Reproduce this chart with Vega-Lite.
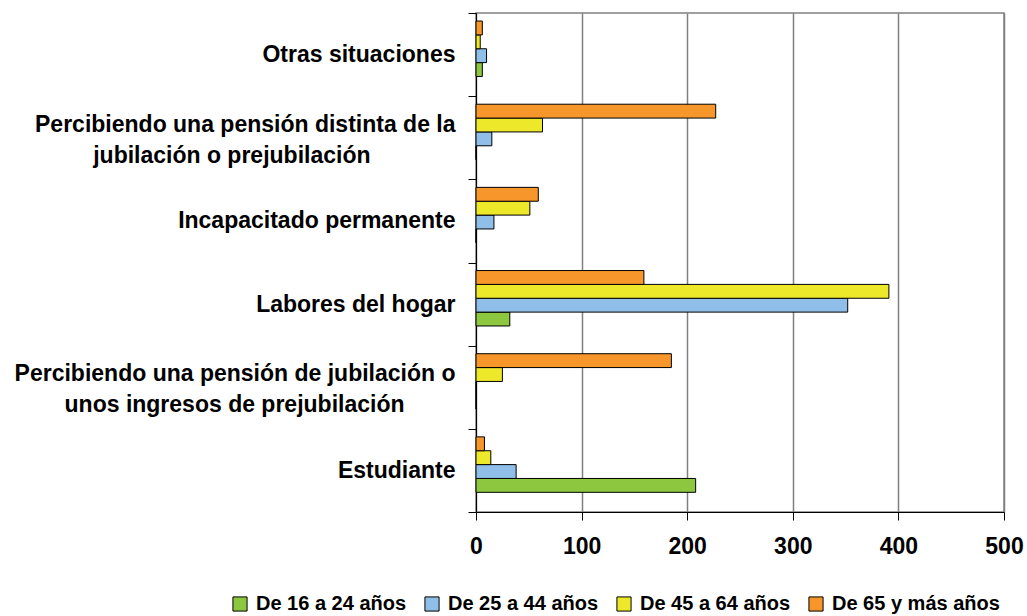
{
  "$schema": "https://vega.github.io/schema/vega-lite/v6.json",
  "width": 528,
  "height": 499,
  "autosize": "none",
  "padding": {"left": 476, "top": 13, "right": 23, "bottom": 104},
  "background": "white",
  "config": {
    "font": "Liberation Sans",
    "view": {"stroke": "#808080", "strokeWidth": 1.5},
    "axis": {"labelFont": "Liberation Sans", "labelFontWeight": "bold", "labelColor": "black"}
  },
  "data": {
    "values": [
      {"situacion": "Otras situaciones", "edad": "De 16 a 24 años", "valor": 6},
      {"situacion": "Otras situaciones", "edad": "De 25 a 44 años", "valor": 10},
      {"situacion": "Otras situaciones", "edad": "De 45 a 64 años", "valor": 4},
      {"situacion": "Otras situaciones", "edad": "De 65 y más años", "valor": 6},
      {"situacion": "Percibiendo una pensión distinta de la jubilación o prejubilación", "edad": "De 16 a 24 años", "valor": 0},
      {"situacion": "Percibiendo una pensión distinta de la jubilación o prejubilación", "edad": "De 25 a 44 años", "valor": 15},
      {"situacion": "Percibiendo una pensión distinta de la jubilación o prejubilación", "edad": "De 45 a 64 años", "valor": 63},
      {"situacion": "Percibiendo una pensión distinta de la jubilación o prejubilación", "edad": "De 65 y más años", "valor": 227},
      {"situacion": "Incapacitado permanente", "edad": "De 16 a 24 años", "valor": 0},
      {"situacion": "Incapacitado permanente", "edad": "De 25 a 44 años", "valor": 17},
      {"situacion": "Incapacitado permanente", "edad": "De 45 a 64 años", "valor": 51},
      {"situacion": "Incapacitado permanente", "edad": "De 65 y más años", "valor": 59},
      {"situacion": "Labores del hogar", "edad": "De 16 a 24 años", "valor": 32},
      {"situacion": "Labores del hogar", "edad": "De 25 a 44 años", "valor": 352},
      {"situacion": "Labores del hogar", "edad": "De 45 a 64 años", "valor": 391},
      {"situacion": "Labores del hogar", "edad": "De 65 y más años", "valor": 159},
      {"situacion": "Percibiendo una pensión de jubilación o unos ingresos de prejubilación", "edad": "De 16 a 24 años", "valor": 0},
      {"situacion": "Percibiendo una pensión de jubilación o unos ingresos de prejubilación", "edad": "De 25 a 44 años", "valor": 0},
      {"situacion": "Percibiendo una pensión de jubilación o unos ingresos de prejubilación", "edad": "De 45 a 64 años", "valor": 25},
      {"situacion": "Percibiendo una pensión de jubilación o unos ingresos de prejubilación", "edad": "De 65 y más años", "valor": 185},
      {"situacion": "Estudiante", "edad": "De 16 a 24 años", "valor": 208},
      {"situacion": "Estudiante", "edad": "De 25 a 44 años", "valor": 38},
      {"situacion": "Estudiante", "edad": "De 45 a 64 años", "valor": 14},
      {"situacion": "Estudiante", "edad": "De 65 y más años", "valor": 8}
    ]
  },
  "mark": {"type": "bar", "stroke": "black", "strokeWidth": 1},
  "encoding": {
    "y": {
      "field": "situacion",
      "type": "nominal",
      "scale": {
        "domain": [
          "Otras situaciones",
          "Percibiendo una pensión distinta de la jubilación o prejubilación",
          "Incapacitado permanente",
          "Labores del hogar",
          "Percibiendo una pensión de jubilación o unos ingresos de prejubilación",
          "Estudiante"
        ],
        "paddingInner": 0,
        "paddingOuter": 0
      },
      "axis": {
        "title": null,
        "domainColor": "black",
        "domainWidth": 1,
        "tickColor": "black",
        "tickSize": 8,
        "tickBand": "extent",
        "labelPadding": 13,
        "labelFontSize": 23,
        "labelLineHeight": 31,
        "labelAlign": "right",
        "labelBaseline": "middle",
        "labelLimit": 0,
        "grid": false,
        "labelOffset": {"condition": {"test": "datum.value == 'Percibiendo una pensión distinta de la jubilación o prejubilación' || datum.value == 'Percibiendo una pensión de jubilación o unos ingresos de prejubilación'", "value": -13.5}, "value": 0},
        "labelExpr": "datum.value == 'Percibiendo una pensión distinta de la jubilación o prejubilación' ? ['Percibiendo una pensión distinta de la', 'jubilación o prejubilación\u2800\u2800\u2800\u2800\u2800'] : datum.value == 'Percibiendo una pensión de jubilación o unos ingresos de prejubilación' ? ['Percibiendo una pensión de jubilación o', 'unos ingresos de prejubilación\u2800\u2800\u2800'] : datum.value"
      }
    },
    "yOffset": {
      "field": "edad",
      "type": "nominal",
      "scale": {
        "domain": ["De 65 y más años", "De 45 a 64 años", "De 25 a 44 años", "De 16 a 24 años"],
        "paddingInner": 0,
        "paddingOuter": 1.33,
        "align": 0.29
      }
    },
    "x": {
      "field": "valor",
      "type": "quantitative",
      "scale": {"domain": [0, 500], "nice": false},
      "axis": {
        "title": null,
        "values": [0, 100, 200, 300, 400, 500],
        "domainColor": "black",
        "tickColor": "black",
        "tickSize": 8,
        "gridColor": "#808080",
        "gridWidth": 1.5,
        "labelFontSize": 23,
        "labelPadding": 15,
        "labelFlush": false
      }
    },
    "color": {
      "field": "edad",
      "type": "nominal",
      "scale": {
        "domain": ["De 16 a 24 años", "De 25 a 44 años", "De 45 a 64 años", "De 65 y más años"],
        "range": ["#8DC63F", "#8FBEE8", "#EEE82A", "#F7962B"]
      },
      "legend": {
        "title": null,
        "orient": "none",
        "direction": "horizontal",
        "legendX": -246,
        "legendY": 581,
        "symbolType": "square",
        "symbolSize": 200,
        "symbolStrokeColor": "black",
        "symbolStrokeWidth": 1,
        "symbolOpacity": 1,
        "labelFont": "Liberation Sans",
        "labelFontWeight": "bold",
        "labelFontSize": 20,
        "labelColor": "black",
        "labelOffset": 6,
        "columnPadding": 15,
        "labelLimit": 0
      }
    }
  }
}
